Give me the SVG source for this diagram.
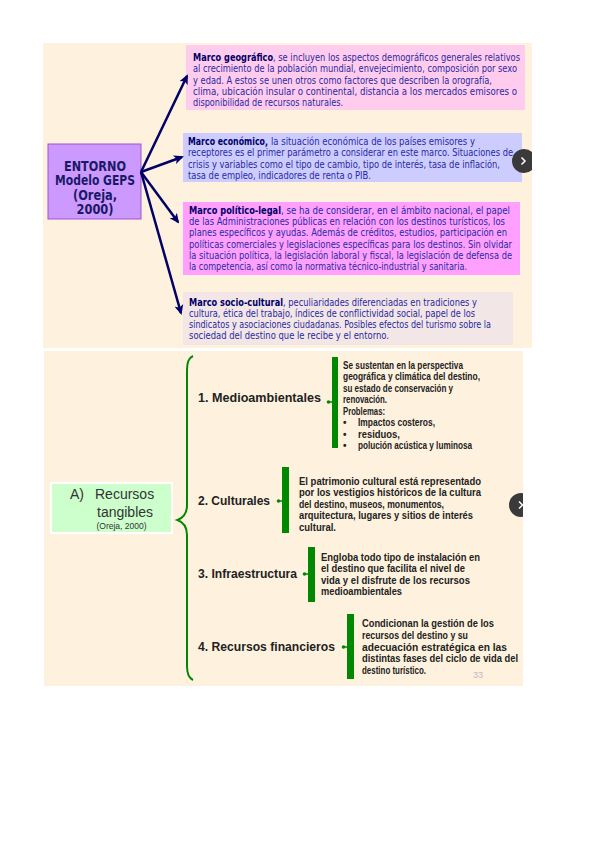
<svg xmlns="http://www.w3.org/2000/svg" width="600" height="848" viewBox="0 0 600 848">
<defs>
<style>
.slide{fill:#FEF2DE}
.t{font-family:"DejaVu Sans",Verdana,sans-serif;font-size:9.6px;fill:#2A2AA0}
.b{font-family:"DejaVu Sans",Verdana,sans-serif;font-size:9.6px;font-weight:bold;fill:#000066}
.ent{font-family:"DejaVu Sans",Verdana,sans-serif;font-size:13.5px;font-weight:bold;fill:#1A1A66;text-anchor:middle}
.lab{font-family:"Liberation Sans",Arial,sans-serif;font-size:12.5px;font-weight:bold;fill:#222}
.d{font-family:"Liberation Sans",Arial,sans-serif;font-size:10px;font-weight:bold;fill:#222}
.bar{fill:#008800}
.arr{stroke:#000066;stroke-width:2.5;fill:none;marker-end:url(#ah)}
.nav{fill:#3A3A3A}
.chev{stroke:#fff;stroke-width:1.5;fill:none}
</style>
<marker id="ah" markerWidth="10" markerHeight="10" refX="8" refY="5" orient="auto" markerUnits="userSpaceOnUse">
<path d="M0,0.5 L10,5 L0,9.5 L2.5,5 Z" fill="#000066"/>
</marker>
<clipPath id="c1"><rect x="43" y="43" width="489" height="305"/></clipPath>
<clipPath id="c2"><rect x="44" y="351" width="479" height="335"/></clipPath>
</defs>
<rect width="600" height="848" fill="#fff"/>

<!-- Top slide -->
<rect class="slide" x="43" y="43" width="489" height="305"/>

<g id="entorno">
<rect x="48" y="144" width="93" height="75" fill="#CC99FF" stroke="#A050D0" stroke-width="1"/>
<text class="ent" x="95" y="171" textLength="62" lengthAdjust="spacingAndGlyphs">ENTORNO</text>
<text class="ent" x="95" y="185" textLength="80" lengthAdjust="spacingAndGlyphs">Modelo GEPS</text>
<text class="ent" x="95" y="199.5" textLength="44" lengthAdjust="spacingAndGlyphs">(Oreja,</text>
<text class="ent" x="95" y="214" textLength="37" lengthAdjust="spacingAndGlyphs">2000)</text>
</g>

<g id="geografico">
<rect x="186" y="45" width="339" height="65" fill="#FFCCEE"/>
<text class="b" x="193" y="60.5" textLength="80" lengthAdjust="spacingAndGlyphs">Marco geográfico</text>
<text class="t" x="273" y="60.5" textLength="247" lengthAdjust="spacingAndGlyphs">, se incluyen los aspectos demográficos generales relativos</text>
<text class="t" x="193" y="72" textLength="324" lengthAdjust="spacingAndGlyphs">al crecimiento de la población mundial, envejecimiento, composición por sexo</text>
<text class="t" x="193" y="83.5" textLength="299" lengthAdjust="spacingAndGlyphs">y edad. A estos se unen otros como factores que describen la orografía,</text>
<text class="t" x="193" y="95" textLength="324" lengthAdjust="spacingAndGlyphs">clima, ubicación insular o continental, distancia a los mercados emisores o</text>
<text class="t" x="193" y="106" textLength="150" lengthAdjust="spacingAndGlyphs">disponibilidad de recursos naturales.</text>
</g>

<g id="economico">
<rect x="183" y="133" width="339" height="49" fill="#CCCCFF"/>
<text class="b" x="188" y="144.5" textLength="80" lengthAdjust="spacingAndGlyphs">Marco económico,</text>
<text class="t" x="271" y="144.5" textLength="204" lengthAdjust="spacingAndGlyphs">la situación económica de los países emisores y</text>
<text class="t" x="188" y="156" textLength="325" lengthAdjust="spacingAndGlyphs">receptores es el primer parámetro a considerar en este marco. Situaciones de</text>
<text class="t" x="188" y="167.5" textLength="312" lengthAdjust="spacingAndGlyphs">crisis y variables como el tipo de cambio, tipo de interés, tasa de inflación,</text>
<text class="t" x="188" y="179" textLength="183" lengthAdjust="spacingAndGlyphs">tasa de empleo, indicadores de renta o PIB.</text>
</g>

<g id="politico">
<rect x="183" y="202" width="337" height="73" fill="#FFA0FF"/>
<text class="b" x="189" y="213.5" textLength="92" lengthAdjust="spacingAndGlyphs">Marco político-legal</text>
<text class="t" x="281" y="213.5" textLength="229" lengthAdjust="spacingAndGlyphs">,  se ha de considerar, en el ámbito nacional, el papel</text>
<text class="t" x="189" y="225" textLength="316" lengthAdjust="spacingAndGlyphs">de las Administraciones públicas en relación con los destinos turísticos, los</text>
<text class="t" x="189" y="236.3" textLength="318" lengthAdjust="spacingAndGlyphs">planes específicos y ayudas. Además de créditos, estudios, participación en</text>
<text class="t" x="189" y="247.6" textLength="323" lengthAdjust="spacingAndGlyphs">políticas comerciales y legislaciones específicas para los destinos.  Sin olvidar</text>
<text class="t" x="189" y="258.9" textLength="323" lengthAdjust="spacingAndGlyphs">la situación política, la legislación laboral y fiscal, la legislación de defensa de</text>
<text class="t" x="189" y="270.2" textLength="278" lengthAdjust="spacingAndGlyphs">la competencia, así como la normativa técnico-industrial y sanitaria.</text>
</g>

<g id="sociocultural">
<rect x="183" y="292" width="330" height="53" fill="#F2E6E6"/>
<text class="b" x="189" y="305.5" textLength="94" lengthAdjust="spacingAndGlyphs">Marco socio-cultural</text>
<text class="t" x="283" y="305.5" textLength="194" lengthAdjust="spacingAndGlyphs">, peculiaridades diferenciadas en tradiciones y</text>
<text class="t" x="189" y="316.7" textLength="286" lengthAdjust="spacingAndGlyphs">cultura, ética del trabajo, índices de conflictividad social, papel de los</text>
<text class="t" x="189" y="327.9" textLength="302" lengthAdjust="spacingAndGlyphs">sindicatos y asociaciones ciudadanas. Posibles efectos del turismo sobre la</text>
<text class="t" x="189" y="339.1" textLength="200" lengthAdjust="spacingAndGlyphs">sociedad del destino que le recibe y el entorno.</text>
</g>

<g id="connectors">
<line class="arr" x1="141" y1="172" x2="187" y2="76"/>
<line class="arr" x1="141" y1="172" x2="182" y2="157"/>
<line class="arr" x1="141" y1="172" x2="178" y2="222"/>
<line class="arr" x1="141" y1="172" x2="181" y2="313"/>
</g>

<g id="nav1" clip-path="url(#c1)">
<circle class="nav" cx="524" cy="161" r="12"/>
<path class="chev" d="M521.5,157.5 L525,161 L521.5,164.5"/>
</g>

<!-- Bottom slide -->
<rect class="slide" x="44" y="351" width="479" height="335"/>

<g id="recursos">
<rect x="51" y="483" width="121" height="50" fill="#CCFFCC" stroke="#fff" stroke-width="2"/>
<text x="70" y="499" font-family="Liberation Sans, Arial, sans-serif" font-size="14" fill="#333">A)</text>
<text x="95" y="499" font-family="Liberation Sans, Arial, sans-serif" font-size="14" fill="#333">Recursos</text>
<text x="97" y="517" font-family="Liberation Sans, Arial, sans-serif" font-size="14" fill="#333">tangibles</text>
<text x="121.5" y="529" font-family="Liberation Sans, Arial, sans-serif" font-size="8.5" fill="#333" text-anchor="middle">(Oreja, 2000)</text>
</g>

<g id="brace">
<path d="M193,356 C188.5,358 187,362 187,372 L187,505 C187,514 183,518 177.5,520 C183,522 187,526 187,535 L187,666 C187,674 188.5,678 193,680" fill="none" stroke="#008800" stroke-width="2"/>
</g>

<g id="medioambientales">
<text class="lab" x="198" y="402" textLength="123" lengthAdjust="spacingAndGlyphs">1.  Medioambientales</text>
<line x1="327" y1="402" x2="332" y2="402" stroke="#008800" stroke-width="1.5"/>
<circle cx="328.5" cy="402" r="1.8" fill="#008800"/>
<rect class="bar" x="332" y="357" width="6" height="91"/>
<text class="d" x="343" y="368.5" textLength="120" lengthAdjust="spacingAndGlyphs">Se sustentan en la perspectiva</text>
<text class="d" x="343" y="380" textLength="137" lengthAdjust="spacingAndGlyphs">geográfica y climática del destino,</text>
<text class="d" x="343" y="391.5" textLength="110" lengthAdjust="spacingAndGlyphs">su estado de conservación y</text>
<text class="d" x="343" y="403" textLength="44" lengthAdjust="spacingAndGlyphs">renovación.</text>
<text class="d" x="343" y="414.5" textLength="42" lengthAdjust="spacingAndGlyphs">Problemas:</text>
<text class="d" x="343" y="426">•</text>
<text class="d" x="358" y="426" textLength="77" lengthAdjust="spacingAndGlyphs">Impactos costeros,</text>
<text class="d" x="343" y="437.5">•</text>
<text class="d" x="358" y="437.5" textLength="42" lengthAdjust="spacingAndGlyphs">residuos,</text>
<text class="d" x="343" y="449">•</text>
<text class="d" x="358" y="449" textLength="114" lengthAdjust="spacingAndGlyphs">polución acústica y luminosa</text>
</g>

<g id="culturales">
<text class="lab" x="198" y="505" textLength="72" lengthAdjust="spacingAndGlyphs">2. Culturales</text>
<line x1="277" y1="501" x2="282" y2="501" stroke="#008800" stroke-width="1.5"/>
<circle cx="278.5" cy="501" r="1.8" fill="#008800"/>
<rect class="bar" x="282" y="467" width="7" height="66"/>
<text class="d" x="299" y="484.5" textLength="182" lengthAdjust="spacingAndGlyphs">El patrimonio cultural está representado</text>
<text class="d" x="299" y="496" textLength="182" lengthAdjust="spacingAndGlyphs">por los vestigios históricos de la cultura</text>
<text class="d" x="299" y="507.5" textLength="145" lengthAdjust="spacingAndGlyphs">del destino, museos, monumentos,</text>
<text class="d" x="299" y="519" textLength="174" lengthAdjust="spacingAndGlyphs">arquitectura, lugares y sitios de interés</text>
<text class="d" x="299" y="530.5" textLength="37" lengthAdjust="spacingAndGlyphs">cultural.</text>
</g>

<g id="infraestructura">
<text class="lab" x="198" y="578" textLength="99" lengthAdjust="spacingAndGlyphs">3. Infraestructura</text>
<line x1="303" y1="574" x2="308" y2="574" stroke="#008800" stroke-width="1.5"/>
<circle cx="304.5" cy="574" r="1.8" fill="#008800"/>
<rect class="bar" x="308" y="547" width="7" height="55"/>
<text class="d" x="321" y="560.5" textLength="159" lengthAdjust="spacingAndGlyphs">Engloba todo tipo de instalación en</text>
<text class="d" x="321" y="572" textLength="144" lengthAdjust="spacingAndGlyphs">el destino que facilita el nivel de</text>
<text class="d" x="321" y="583.5" textLength="149" lengthAdjust="spacingAndGlyphs">vida y el disfrute  de los recursos</text>
<text class="d" x="321" y="595" textLength="81" lengthAdjust="spacingAndGlyphs">medioambientales</text>
</g>

<g id="financieros">
<text class="lab" x="198" y="651" textLength="137" lengthAdjust="spacingAndGlyphs">4. Recursos financieros</text>
<line x1="342" y1="647" x2="347" y2="647" stroke="#008800" stroke-width="1.5"/>
<circle cx="343.5" cy="647" r="1.8" fill="#008800"/>
<rect class="bar" x="347" y="614" width="7" height="65"/>
<text class="d" x="362" y="626.5" textLength="132" lengthAdjust="spacingAndGlyphs">Condicionan la gestión de los</text>
<text class="d" x="362" y="638.5" textLength="106" lengthAdjust="spacingAndGlyphs">recursos del destino y su</text>
<text class="d" x="362" y="650.5" textLength="145" lengthAdjust="spacingAndGlyphs">adecuación estratégica en las</text>
<text class="d" x="362" y="662" textLength="156" lengthAdjust="spacingAndGlyphs">distintas fases del ciclo de vida del</text>
<text class="d" x="362" y="673.5" textLength="64" lengthAdjust="spacingAndGlyphs">destino turístico.</text>
</g>

<text x="473" y="678" font-family="Liberation Sans, Arial, sans-serif" font-size="9" fill="#BBBBBB">33</text>

<g id="nav2" clip-path="url(#c2)">
<circle class="nav" cx="521" cy="505" r="12"/>
<path class="chev" d="M519,501.5 L522.5,505 L519,508.5"/>
</g>
</svg>
